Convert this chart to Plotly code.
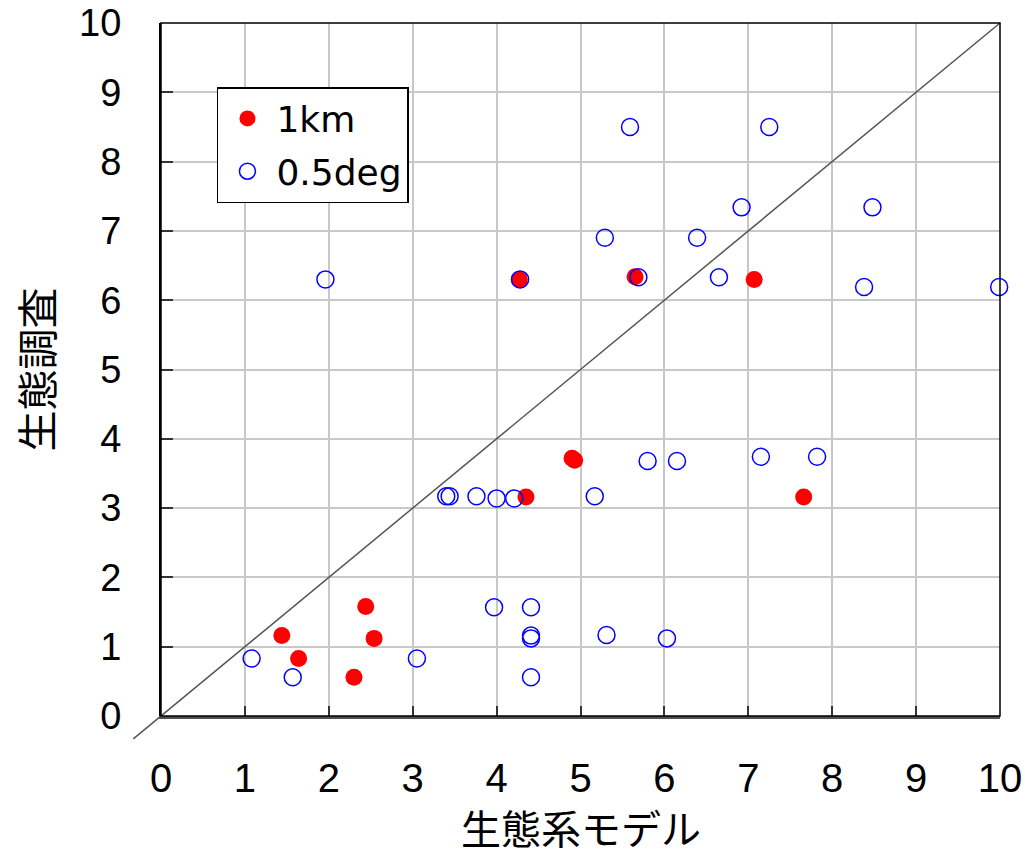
import plotly.graph_objects as go

# 1km series
km_x = [1.44, 1.64, 2.44, 2.54, 2.30, 4.90, 4.93, 4.35, 7.66, 4.27, 5.65, 7.07]
km_y = [1.16, 0.83, 1.58, 1.12, 0.56, 3.72, 3.69, 3.16, 3.16, 6.30, 6.34, 6.30]

# 0.5deg series
deg_x = [1.08, 1.57, 3.05, 3.97, 4.41, 4.41, 4.41, 4.41, 5.31, 6.03,
         3.40, 3.44, 3.76, 4.00, 4.21, 5.17,
         5.80, 6.15, 7.15, 7.82,
         1.96, 4.28, 5.69, 6.65, 8.38, 9.99,
         5.29, 6.39, 6.92, 8.48, 5.59, 7.25]
deg_y = [0.83, 0.56, 0.83, 1.57, 1.57, 1.16, 1.12, 0.56, 1.17, 1.12,
         3.17, 3.17, 3.17, 3.14, 3.14, 3.17,
         3.68, 3.68, 3.74, 3.74,
         6.30, 6.30, 6.33, 6.33, 6.19, 6.19,
         6.90, 6.90, 7.34, 7.34, 8.50, 8.50]

ticks = list(range(0, 11))
tick_text = [str(t) for t in ticks]
x_title = "生態系モデル"
y_title = "生態調査"
AX_MIN, AX_MAX = 0, 10
DIAG_START = -0.33  # 1:1 line extends slightly beyond the origin

fig = go.Figure()
fig.add_trace(go.Scatter(
    x=km_x, y=km_y, mode="markers", name="1km", legendgroup="a",
    marker=dict(symbol="circle", size=17, color="#ff0000", line=dict(width=0)),
    cliponaxis=False, legendrank=1,
))
fig.add_trace(go.Scatter(
    x=deg_x, y=deg_y, mode="markers", name="0.5deg", legendgroup="b",
    marker=dict(symbol="circle-open", size=17, color="#0000ff", line=dict(width=1.5)),
    cliponaxis=False, legendrank=2,
))

span = AX_MAX - AX_MIN
p0 = (DIAG_START - AX_MIN) / span
fig.add_shape(type="line", xref="paper", yref="paper",
              x0=p0, y0=p0, x1=1, y1=1,
              line=dict(color="#555555", width=1.5), layer="above")
fig.add_shape(type="rect", xref="paper", yref="paper", x0=0, y0=0, x1=1, y1=1,
              line=dict(color="#000000", width=1.5), layer="above")

xtickfont = dict(family="Liberation Sans, Arial, sans-serif", size=40, color="#000000")
ytickfont = dict(family="Liberation Sans, Arial, sans-serif", size=38, color="#000000")
titlefont = dict(family="Noto Sans CJK JP, sans-serif", size=41, color="#000000")
xtitlefont = dict(family="Noto Sans CJK JP, sans-serif", size=40, color="#000000")

fig.update_xaxes(
    range=[AX_MIN, AX_MAX], tickvals=ticks, ticktext=tick_text, automargin=False,
    showgrid=True, gridcolor="#c8c8c8", gridwidth=1.5, zeroline=False,
    showline=True, linecolor="#505050", linewidth=2.5,
    ticks="inside", ticklen=10, tickwidth=1.5, tickcolor="#333333",
    tickfont=xtickfont, ticklabelstandoff=25, ticklabeloverflow="allow",
)
fig.update_yaxes(
    range=[AX_MIN, AX_MAX], tickvals=ticks, ticktext=tick_text, automargin=False,
    showgrid=True, gridcolor="#c8c8c8", gridwidth=1.5, zeroline=False,
    showline=True, linecolor="#000000", linewidth=2,
    ticks="inside", ticklen=12, tickwidth=1.5, tickcolor="#333333",
    tickfont=ytickfont, ticklabelstandoff=30, ticklabeloverflow="allow",
)

# axis titles as annotations so they can sit exactly where the reference has them
fig.add_annotation(text=x_title, xref="paper", yref="paper", x=0.5, y=0,
                   xanchor="center", yanchor="middle", yshift=-111,
                   showarrow=False, font=xtitlefont)
fig.add_annotation(text=y_title, xref="paper", yref="paper", x=0, y=0.5,
                   xanchor="center", yanchor="middle", xshift=-127, textangle=-90,
                   showarrow=False, font=titlefont)

fig.update_layout(
    width=1028, height=859,
    margin=dict(l=161, r=28, t=23, b=143, autoexpand=False),
    paper_bgcolor="#ffffff", plot_bgcolor="#ffffff",
    showlegend=True,
    legend=dict(
        x=0.0667, y=0.9076, xanchor="left", yanchor="top",
        bordercolor="#000000", borderwidth=1.5, bgcolor="#ffffff",
        font=dict(family="DejaVu Sans, sans-serif", size=36, color="#000000"),
        itemwidth=48, traceorder="grouped", tracegroupgap=3,
    ),
)

# remove the browser's default 8px body margin so the figure fills the window
fig.write_html("out.html", config={"displayModeBar": False},
               post_script="document.body.style.margin='0';")
